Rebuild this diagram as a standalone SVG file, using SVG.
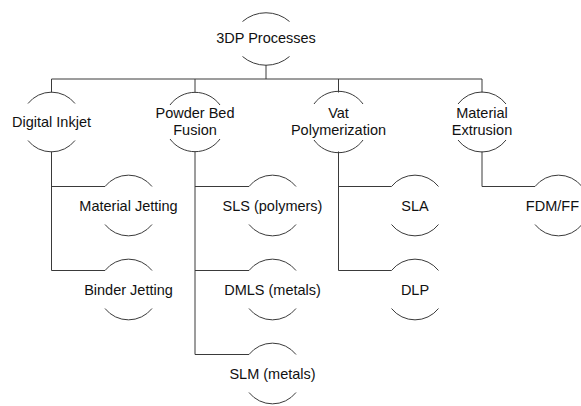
<svg xmlns="http://www.w3.org/2000/svg" width="581" height="406" viewBox="0 0 581 406">
<style>
.bg{fill:#ffffff}
.arc{fill:none;stroke:#3a3a3a;stroke-width:1}
.ln{fill:none;stroke:#3a3a3a;stroke-width:1}
text{font-family:"Liberation Sans",Arial,sans-serif;font-size:14.5px;fill:#111;text-anchor:middle}
</style>
<rect class="bg" x="0" y="0" width="581" height="406"/>
<g id="connectors">
<path class="ln" d="M266 65V79M51.5 79H482M51.5 79V92.5M195 79V92.5M338.5 79V92.5M482 79V92.5"/>
<path class="ln" d="M51.5 151.5V270.5M51.5 186.5H105M51.5 270.5H105"/>
<path class="ln" d="M195 151.5V354.5M195 186.5H249M195 270.5H249M195 354.5H249"/>
<path class="ln" d="M338.5 151.5V270.5M338.5 186.5H391.5M338.5 270.5H391.5"/>
<path class="ln" d="M482 151.5V186.5H535"/>
</g>
<g id="n-3dp">
<path class="arc" d="M242.5 21.5A36 36 0 0 1 289.5 21.5M242.5 56.5A36 36 0 0 0 289.5 56.5"/>
<text x="266" y="43">3DP Processes</text>
</g>
<g id="n-digital-inkjet">
<path class="arc" d="M28 103.5A30 30 0 0 1 75 103.5M28 140.5A30 30 0 0 0 75 140.5"/>
<text x="51.5" y="127">Digital Inkjet</text>
</g>
<g id="n-powder-bed">
<path class="arc" d="M170 105A31 31 0 0 1 220 105M170 139A31 31 0 0 0 220 139"/>
<text x="195" y="117.5">Powder Bed</text>
<text x="195" y="135">Fusion</text>
</g>
<g id="n-vat">
<path class="arc" d="M314 104A30 30 0 0 1 363 104M314 140A30 30 0 0 0 363 140"/>
<text x="338.5" y="117.5">Vat</text>
<text x="338.5" y="135">Polymerization</text>
</g>
<g id="n-extrusion">
<path class="arc" d="M458 104A30 30 0 0 1 506 104M458 140A30 30 0 0 0 506 140"/>
<text x="482" y="117.5">Material</text>
<text x="482" y="135">Extrusion</text>
</g>
<g id="n-material-jetting">
<path class="arc" d="M105 186.5A30 30 0 0 1 152 186.5M105 224.5A30 30 0 0 0 152 224.5"/>
<text x="128.5" y="210.5">Material Jetting</text>
</g>
<g id="n-binder-jetting">
<path class="arc" d="M105 270.5A30 30 0 0 1 152 270.5M105 308.5A30 30 0 0 0 152 308.5"/>
<text x="128.5" y="294.5">Binder Jetting</text>
</g>
<g id="n-sls">
<path class="arc" d="M249 186.5A30 30 0 0 1 296 186.5M249 224.5A30 30 0 0 0 296 224.5"/>
<text x="272.5" y="210.5">SLS (polymers)</text>
</g>
<g id="n-dmls">
<path class="arc" d="M249 270.5A30 30 0 0 1 296 270.5M249 308.5A30 30 0 0 0 296 308.5"/>
<text x="272.5" y="294.5">DMLS (metals)</text>
</g>
<g id="n-slm">
<path class="arc" d="M249 354.5A30 30 0 0 1 296 354.5M249 392.5A30 30 0 0 0 296 392.5"/>
<text x="272.5" y="378.5">SLM (metals)</text>
</g>
<g id="n-sla">
<path class="arc" d="M391.5 186.5A30 30 0 0 1 438.5 186.5M391.5 224.5A30 30 0 0 0 438.5 224.5"/>
<text x="415" y="210.5">SLA</text>
</g>
<g id="n-dlp">
<path class="arc" d="M391.5 270.5A30 30 0 0 1 438.5 270.5M391.5 308.5A30 30 0 0 0 438.5 308.5"/>
<text x="415" y="294.5">DLP</text>
</g>
<g id="n-fdm">
<path class="arc" d="M535 186.5A30 30 0 0 1 582 186.5M535 224.5A30 30 0 0 0 582 224.5"/>
<text x="579" y="210.5" style="text-anchor:end">FDM/FF</text>
</g>
</svg>
